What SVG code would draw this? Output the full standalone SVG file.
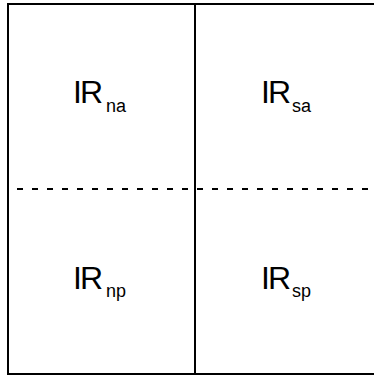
<svg xmlns="http://www.w3.org/2000/svg" width="374" height="377" viewBox="0 0 374 377">
<style>
.frame{fill:none;stroke:#000;stroke-width:2}
.dash{stroke:#000;stroke-width:2;stroke-dasharray:6,9;stroke-dashoffset:6}
.main{font-family:"Liberation Sans",Arial,sans-serif;font-size:32px;fill:#000;letter-spacing:-2px}
.sub{font-size:18px;letter-spacing:0}
</style>
<rect width="374" height="377" fill="#fff"/>
<g id="connectors">
<path class="frame" d="M376 4 H8 V374 H376"/>
<line class="frame" x1="195" y1="4" x2="195" y2="374"/>
<line class="dash" x1="8" y1="189" x2="374" y2="189"/>
</g>
<g id="Rna"><text class="main" x="73" y="103">IR<tspan class="sub" x="106" y="112">na</tspan></text></g>
<g id="Rsa"><text class="main" x="261" y="103">IR<tspan class="sub" x="292" y="112">sa</tspan></text></g>
<g id="Rnp"><text class="main" x="73" y="289">IR<tspan class="sub" x="106" y="297">np</tspan></text></g>
<g id="Rsp"><text class="main" x="261" y="289">IR<tspan class="sub" x="292" y="297">sp</tspan></text></g>
</svg>
